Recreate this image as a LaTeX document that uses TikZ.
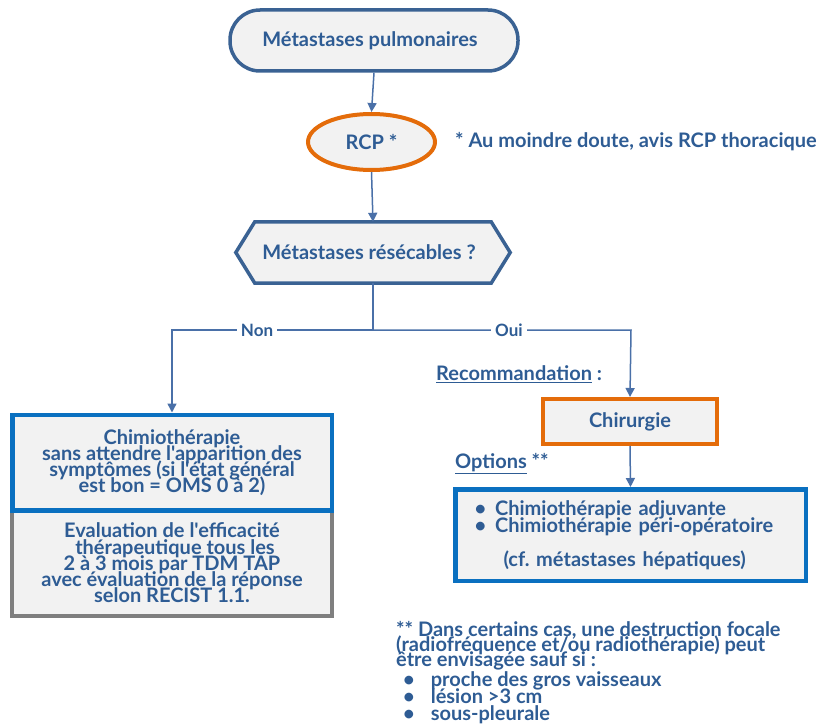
\documentclass[tikz,border=0pt]{standalone}
\usepackage{fontspec}
\setmainfont{Lato}[Ligatures=TeXOff]
\usetikzlibrary{shapes.geometric,arrows.meta,backgrounds}
\definecolor{txt}{HTML}{2E5C94}
\definecolor{dblue}{HTML}{3A6293}
\definecolor{lblue}{HTML}{0A70C0}
\definecolor{orng}{HTML}{E46C0A}
\definecolor{gborder}{HTML}{7F7F7F}
\definecolor{fillg}{HTML}{F2F2F2}
\definecolor{conn}{HTML}{4A70A8}
\tikzset{
  stadium/.style={draw=dblue, line width=3.5pt, fill=fillg, rounded corners=30pt, minimum width=288pt, minimum height=61pt},
  rcpnode/.style={ellipse, draw=orng, line width=4pt, fill=fillg, minimum width=127pt, minimum height=56pt, inner sep=0pt},
  hexholder/.style={minimum width=274pt, minimum height=61pt, inner sep=0pt},
  hexline/.style={draw=dblue, line width=3.5pt, fill=fillg, line join=miter},
  orbox/.style={draw=orng, line width=4pt, fill=fillg, minimum width=174pt, minimum height=45pt},
  bluebox/.style={draw=lblue, line width=4.5pt, fill=fillg, align=center},
  graybox/.style={draw=gborder, line width=4pt, fill=fillg, align=center},
  arr/.style={draw=conn, line width=1.5pt, -{Triangle[length=9pt,width=9pt]}},
  ln/.style={draw=conn, line width=1.5pt},
  lbl/.style={fill=white, font=\bfseries\fontsize{17}{17}\selectfont, inner sep=4pt},
  plain/.style={inner sep=0pt, align=left},
}
\newcommand{\tightfont}[1]{\bfseries\fontsize{20}{#1}\selectfont\lineskiplimit=-40pt\relax}
\begin{document}
\begin{tikzpicture}[x=1pt,y=-1pt, font=\tightfont{16.2}, text=txt]
\useasboundingbox (0,0) rectangle (828,725);

\node[stadium] (mp) at (374,40.5) {Métastases pulmonaires\hspace*{8pt}};
\node[rcpnode] (rcp) at (371.5,142) {RCP *};
\node[plain, anchor=west] (note1) at (455,142) {* Au moindre doute, avis RCP thoracique};

\node[hexholder] (hex) at (373,252.5) {Métastases résécables ?\hspace*{8pt}};
\begin{scope}[on background layer]
\draw[hexline] (hex.west) -- ([xshift=19pt]hex.north west) -- ([xshift=-19pt]hex.north east) -- (hex.east) -- ([xshift=-19pt]hex.south east) -- ([xshift=19pt]hex.south west) -- cycle;
\end{scope}

\coordinate (split) at (373,330);
\coordinate (lcorner) at (172,330);
\coordinate (rcorner) at (631,330);

% left boxes
\node[graybox, minimum width=320pt, minimum height=106pt] (eval) at (172,563) {Evaluation de l'efficacité\\ \hspace*{6pt}thérapeutique tous les\\ 2 à 3 mois par TDM TAP\\ avec évaluation de la réponse\\ selon RECIST 1.1.};
\node[bluebox, minimum width=319.5pt, minimum height=95.5pt] (chimio) at (172,462.5) {Chimiothérapie\\ sans attendre l'apparition des\\ symptômes (si l'état général\\ est bon = OMS 0 à 2)};

% right
\node[plain, anchor=west] (reco) at (436,374) {\underline{Recommandation} :};
\node[orbox] (chir) at (630,421.5) {Chirurgie};
\node[plain, anchor=west] (opt) at (455,464) {\underline{Options} **};
\node[bluebox, minimum width=350.5pt, minimum height=91.5pt, align=left, text width=330pt, inner sep=0pt, font=\tightfont{17}] (opts) at (630.5,535)
{\hspace*{9pt}\textbullet\hspace{9pt}Chimiothérapie adjuvante\\
 \hspace*{9pt}\textbullet\hspace{9pt}Chimiothérapie péri-opératoire\\[17pt]
 \hspace*{38pt}(cf.\ métastases hépatiques)};

% bottom note
\node[plain, anchor=north west, font=\tightfont{15}] (note2) at (396,621)
{** Dans certains cas, une destruction focale\\
(radiofréquence et/ou radiothérapie) peut\\
être envisagée sauf si :\\[5.5pt]
\hspace*{7pt}\textbullet\hspace{16pt}proche des gros vaisseaux\\[2pt]
\hspace*{7pt}\textbullet\hspace{16pt}lésion >3 cm\\[2pt]
\hspace*{7pt}\textbullet\hspace{16pt}sous-pleurale};

% connectors
\draw[arr] (mp.south) -- (rcp.north);
\draw[arr] (rcp.south) -- (hex.north);
\draw[ln] (hex.south) -- (split);
\draw[arr] (split) -- (lcorner) -- (chimio.north);
\draw[arr] (split) -- (rcorner) -- (chir.north);
\draw[arr] (chir.south) -- (opts.north);
\node[lbl] (non) at (257,330) {Non};
\node[lbl] (oui) at (509,330) {Oui};
\end{tikzpicture}
\end{document}
